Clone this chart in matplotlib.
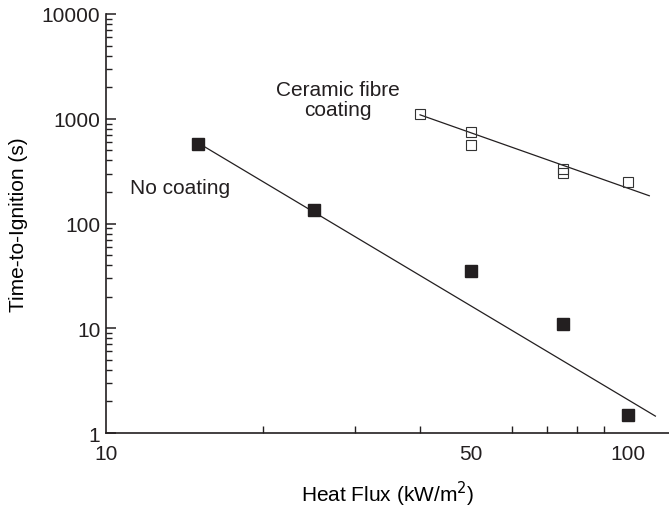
import matplotlib
matplotlib.use("Agg")
import matplotlib.pyplot as plt
from matplotlib.ticker import FixedLocator, NullFormatter, FixedFormatter

plt.rcParams['font.family'] = ['Liberation Sans', 'DejaVu Sans']
plt.rcParams['text.color'] = '#231f20'
plt.rcParams['xtick.labelcolor'] = '#231f20'
plt.rcParams['ytick.labelcolor'] = '#231f20'

# No coating (filled squares)
nc_flux = [15, 25, 50, 75, 100]
nc_time = [575, 134, 35, 11, 1.5]
nc_fit_x = [15, 113]
nc_fit_y = [590, 1.45]

# Ceramic fibre coating (open squares)
cf_flux = [40, 50, 50, 75, 75, 100]
cf_time = [1120, 740, 565, 335, 305, 250]
cf_fit_x = [40, 110]
cf_fit_y = [1090, 184]

x_major = [10, 50, 100]
x_major_labels = ["10", "50", "100"]
x_minor = [20, 30, 40, 60, 70, 80, 90]
y_major = [1, 10, 100, 1000, 10000]
y_major_labels = ["1", "10", "100", "1000", "10000"]

fig = plt.figure(figsize=(6.69, 5.10), dpi=100)
ax = fig.add_axes([0.1584, 0.149, 0.8416, 0.8216])

ax.plot(nc_fit_x, nc_fit_y, color='#231f20', lw=0.9, zorder=2)
ax.plot(cf_fit_x, cf_fit_y, color='#231f20', lw=0.9, zorder=2)
ax.plot(nc_flux, nc_time, ls='none', marker='s', ms=8.5, mfc='#231f20', mec='#231f20', zorder=3)
ax.plot(cf_flux, cf_time, ls='none', marker='s', ms=7.5, mfc='none', mec='#333333', mew=0.8, zorder=3)

ax.set_xscale('log')
ax.set_yscale('log')
ax.set_xlim(10, 120)
ax.set_ylim(1, 10000)

ax.xaxis.set_major_locator(FixedLocator(x_major))
ax.xaxis.set_major_formatter(FixedFormatter(x_major_labels))
ax.xaxis.set_minor_locator(FixedLocator(x_minor))
ax.xaxis.set_minor_formatter(NullFormatter())
ax.yaxis.set_major_locator(FixedLocator(y_major))
ax.yaxis.set_major_formatter(FixedFormatter(y_major_labels))
ax.yaxis.set_minor_locator(FixedLocator([m * 10**d for d in range(0, 4) for m in range(2, 10)]))
ax.yaxis.set_minor_formatter(NullFormatter())

ax.tick_params(axis='x', which='major', direction='in', length=0, labelsize=15, pad=8)
ax.tick_params(axis='x', which='minor', direction='in', length=5, width=1, color='#231f20')
ax.tick_params(axis='y', which='major', direction='in', length=7, width=1.1, labelsize=15, pad=4, color='#231f20')
ax.tick_params(axis='y', which='minor', direction='in', length=4, width=1, color='#231f20')

for s in ['top', 'right']:
    ax.spines[s].set_visible(False)
for s in ['left', 'bottom']:
    ax.spines[s].set_linewidth(1.2)
    ax.spines[s].set_color('#231f20')

ax.set_xlabel("Heat Flux (kW/m$^2$)", fontsize=15, labelpad=11)
ax.set_ylabel("Time-to-Ignition (s)", fontsize=15, labelpad=10)

ax.text(13.85, 222, "No coating", fontsize=15, ha='center', va='center')
ax.text(27.8, 1520, "Ceramic fibre\ncoating", fontsize=15, ha='center', va='center', linespacing=1.1)

fig.savefig("out.png", dpi=100)
